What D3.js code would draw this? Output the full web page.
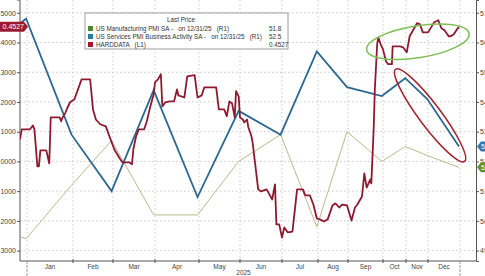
<!DOCTYPE html>
<html>
<head>
<meta charset="utf-8">
<script src="https://cdn.jsdelivr.net/npm/d3@7"></script>
<style>
  body { margin: 0; background: #fff; }
  svg { display: block; font-family: "Liberation Sans", "DejaVu Sans", sans-serif; }
</style>
</head>
<body>
<div id="chart"></div>
<script>
// month breaks of Bloomberg's gap-removed time axis and the relative width of each span
var axisBreaks = ["2024-12-24","2025-01-01","2025-02-01","2025-03-01","2025-04-01","2025-05-01",
  "2025-06-01","2025-07-01","2025-08-01","2025-09-01","2025-10-01","2025-11-01","2025-12-01",
  "2026-01-01","2026-01-15"];
var spanWidth = [7, 46, 40, 42, 44, 41, 42, 36, 30, 35, 23, 22, 32, 16];
var monthLabels = ["Jan","Feb","Mar","Apr","May","Jun","Jul","Aug","Sep","Oct","Nov","Dec"];

var pmiDates = ["2024-11-30","2024-12-31","2025-01-31","2025-02-28","2025-03-31","2025-04-30",
  "2025-05-31","2025-06-30","2025-07-31","2025-08-31","2025-09-30","2025-10-31","2025-11-30","2025-12-31"];
var mfgPmi = [49.7, 49.4, 51.2, 52.7, 50.2, 50.2, 52.0, 52.9, 49.8, 53.0, 52.0, 52.5, 52.2, 51.8];
var svcPmi = [56.1, 56.8, 52.9, 51.0, 54.4, 50.8, 53.7, 52.9, 55.7, 54.5, 54.2, 54.8, 54.1, 52.5];

var hardDates = ["2024-12-24","2024-12-26","2024-12-30","2025-01-03","2025-01-05","2025-01-06","2025-01-08",
  "2025-01-09","2025-01-10","2025-01-14","2025-01-16","2025-01-17","2025-01-23","2025-01-24","2025-01-25",
  "2025-01-27","2025-01-28","2025-01-30","2025-02-02","2025-02-07","2025-02-13","2025-02-15","2025-02-17",
  "2025-02-20","2025-02-24","2025-02-26","2025-03-02","2025-03-06","2025-03-08","2025-03-13","2025-03-15",
  "2025-03-16","2025-03-18","2025-03-20","2025-03-24","2025-03-26","2025-03-28","2025-03-29","2025-03-31",
  "2025-04-01","2025-04-03","2025-04-05","2025-04-06","2025-04-08","2025-04-11","2025-04-14","2025-04-16",
  "2025-04-17","2025-04-21","2025-04-23","2025-04-28","2025-04-30","2025-05-03","2025-05-05","2025-05-14",
  "2025-05-16","2025-05-20","2025-05-22","2025-05-24","2025-05-26","2025-05-28","2025-05-29","2025-05-31",
  "2025-06-01","2025-06-03","2025-06-04","2025-06-06","2025-06-07","2025-06-09","2025-06-10","2025-06-14",
  "2025-06-16","2025-06-20","2025-06-22","2025-06-24","2025-06-26","2025-06-27","2025-06-29","2025-07-01",
  "2025-07-03","2025-07-06","2025-07-10","2025-07-14","2025-07-19","2025-07-21","2025-07-25","2025-07-28",
  "2025-07-31","2025-08-03","2025-08-07","2025-08-11","2025-08-16","2025-08-19","2025-08-23","2025-08-26",
  "2025-08-31","2025-09-04","2025-09-07","2025-09-09","2025-09-13","2025-09-15","2025-09-17","2025-09-20",
  "2025-09-21","2025-09-23","2025-09-24","2025-09-26","2025-09-27","2025-09-29","2025-10-01","2025-10-05",
  "2025-10-08","2025-10-13","2025-10-14","2025-10-24","2025-10-28","2025-11-02","2025-11-06","2025-11-16",
  "2025-11-20","2025-11-24","2025-12-01","2025-12-04","2025-12-07","2025-12-11","2025-12-14","2025-12-17",
  "2025-12-21","2025-12-23","2025-12-26","2025-12-29","2025-12-31"];
var hardData = [0.074,0.108,0.108,0.108,0.121,0.108,-0.017,
  -0.017,0.037,0.037,-0.007,0.148,0.148,0.135,0.148,
  0.165,0.178,0.199,0.209,0.276,0.276,0.175,0.141,
  0.125,0.118,0.091,0.040,0.010,-0.003,-0.003,-0.010,
  0.040,0.084,0.108,0.108,0.135,0.175,0.192,0.226,
  0.266,0.276,0.293,0.185,0.199,0.202,0.202,0.242,
  0.222,0.215,0.286,0.290,0.215,0.222,0.249,0.249,
  0.175,0.175,0.152,0.202,0.195,0.148,0.236,0.219,
  0.148,0.141,0.131,0.141,0.114,0.088,0.064,-0.094,
  -0.101,-0.094,-0.111,-0.128,-0.077,-0.212,-0.212,-0.256,
  -0.222,-0.239,-0.236,-0.094,-0.094,-0.114,-0.114,-0.145,
  -0.192,-0.195,-0.202,-0.195,-0.148,-0.141,-0.155,-0.145,
  -0.148,-0.199,-0.155,-0.145,-0.118,-0.040,-0.088,-0.061,
  -0.074,0.108,0.242,0.394,0.417,0.394,0.377,0.337,
  0.327,0.327,0.387,0.387,0.384,0.367,0.421,0.465,
  0.461,0.434,0.434,0.451,0.468,0.475,0.448,0.441,
  0.421,0.421,0.428,0.444,0.4527];

var leftTicks = [-0.3,-0.2,-0.1,0,0.1,0.2,0.3,0.4,0.5];
var rightTicks = [49,50,51,52,53,54,55,56,57];

var width = 485, height = 276;
var margin = {top: 0, right: 9, bottom: 15, left: 20};
var x0 = margin.left, x1 = width - margin.right, yBottom = height - margin.bottom;

var parse = d3.utcParse("%Y-%m-%d");
var cum = [0];
spanWidth.forEach(function(w) { cum.push(cum[cum.length - 1] + w); });
var total = cum[cum.length - 1];

var x = d3.scaleUtc()
  .domain(axisBreaks.map(parse))
  .range(cum.map(function(c) { return x0 + (x1 - x0) * c / total; }));
var yL = d3.scaleLinear().domain([-0.335, 0.543]).range([yBottom, margin.top]);
var yR = d3.scaleLinear().domain([48.65, 57.43]).range([yBottom, margin.top]);

var svg = d3.select("#chart").append("svg")
  .attr("width", width).attr("height", height);

svg.append("clipPath").attr("id", "plot")
  .append("rect").attr("x", x0).attr("y", 0).attr("width", x1 - x0).attr("height", yBottom);

// grid
var grid = svg.append("g").attr("stroke", "#c9c9c9").attr("stroke-dasharray", "1.5,2.5");
grid.selectAll("line.h").data(leftTicks).enter().append("line")
  .attr("x1", x0).attr("x2", x1)
  .attr("y1", function(d) { return yL(d); }).attr("y2", function(d) { return yL(d); });
var monthStarts = axisBreaks.slice(1, 14).map(parse);
grid.selectAll("line.v").data(monthStarts).enter().append("line")
  .attr("x1", function(d) { return x(d); }).attr("x2", function(d) { return x(d); })
  .attr("y1", 0).attr("y2", yBottom);

// axes
var axisColor = "#555";
var gl = svg.append("g").attr("transform", "translate(" + x0 + ",0)")
  .call(d3.axisLeft(yL).tickValues(leftTicks).tickSize(3).tickPadding(1).tickFormat(d3.format(".4f")));
var gr = svg.append("g").attr("transform", "translate(" + x1 + ",0)")
  .call(d3.axisRight(yR).tickValues(rightTicks).tickSize(3).tickPadding(1).tickFormat(d3.format("d")));
[gl, gr].forEach(function(g) {
  g.select(".domain").attr("stroke", axisColor);
  g.selectAll(".tick line").attr("stroke", axisColor);
  g.selectAll("text").attr("fill", "#444").style("font-size", "7px")
    .style("font-family", "'Liberation Sans', sans-serif");
});
gl.select(".domain").attr("d", "M-3,0H0V" + yBottom);

var gb = svg.append("g").attr("transform", "translate(0," + yBottom + ")");
gb.append("line").attr("x1", x0).attr("x2", x1).attr("stroke", axisColor);
gb.selectAll("line.t").data(monthStarts.slice(1, 12)).enter().append("line")
  .attr("x1", function(d) { return x(d); }).attr("x2", function(d) { return x(d); })
  .attr("y1", -2).attr("y2", 2).attr("stroke", axisColor);
gb.selectAll("line.yr").data([monthStarts[0], monthStarts[12]]).enter().append("line")
  .attr("x1", function(d) { return x(d); }).attr("x2", function(d) { return x(d); })
  .attr("y1", 0).attr("y2", 15).attr("stroke", "#999").attr("stroke-dasharray", "3,1");
gb.selectAll("text.m").data(monthLabels).enter().append("text")
  .attr("x", function(d, i) { return (x(monthStarts[i]) + x(monthStarts[i + 1])) / 2; })
  .attr("y", 7.5).attr("text-anchor", "middle").attr("fill", "#444").style("font-size", "6.5px")
  .text(function(d) { return d; });
gb.append("text")
  .attr("x", (x(monthStarts[0]) + x(monthStarts[12])) / 2).attr("y", 14)
  .attr("text-anchor", "middle").attr("fill", "#444").style("font-size", "6.5px").text("2025");

// series
var plot = svg.append("g").attr("clip-path", "url(#plot)");
var lineR = d3.line().x(function(d) { return x(d[0]); }).y(function(d) { return yR(d[1]); });
var lineL = d3.line().x(function(d) { return x(d[0]); }).y(function(d) { return yL(d[1]); });

plot.append("path").datum(pmiDates.map(function(d, i) { return [parse(d), mfgPmi[i]]; }))
  .attr("d", lineR).attr("fill", "none").attr("stroke", "#bcb98e").attr("stroke-width", 1);
plot.append("path").datum(pmiDates.map(function(d, i) { return [parse(d), svcPmi[i]]; }))
  .attr("d", lineR).attr("fill", "none").attr("stroke", "#2e6890").attr("stroke-width", 1.8);
plot.append("path").datum(hardDates.map(function(d, i) { return [parse(d), hardData[i]]; }))
  .attr("d", lineL).attr("fill", "none").attr("stroke", "#8e1a30").attr("stroke-width", 1.8)
  .attr("stroke-linejoin", "round");

// annotation ellipses
function ring(dateA, valA, dateB, valB, scale, thick, color) {
  var ax = x(parse(dateA)), ay = scale(valA), bx = x(parse(dateB)), by = scale(valB);
  var cx = (ax + bx) / 2, cy = (ay + by) / 2;
  var rx = Math.hypot(bx - ax, by - ay) / 2;
  var ang = Math.atan2(by - ay, bx - ax) * 180 / Math.PI;
  svg.append("ellipse").attr("cx", cx).attr("cy", cy).attr("rx", rx).attr("ry", thick)
    .attr("transform", "rotate(" + ang + "," + cx + "," + cy + ")")
    .attr("fill", "none").attr("stroke", color).attr("stroke-width", 1.5);
}
ring("2025-09-17", 0.375, "2026-01-09", 0.43, yL, 16, "#7fbf57");
ring("2025-10-18", 55.1, "2026-01-05", 52.0, yR, 11, "#a3222f");

// last value tags
function tag(side, yv, label, color) {
  var g = svg.append("g").attr("transform", "translate(0," + yv + ")");
  if (side === "left") {
    g.append("path").attr("d", "M-2,-5H24L28,0L24,5H-2Z").attr("fill", color);
    g.append("text").attr("x", 24).attr("y", 2.5).attr("text-anchor", "end")
      .attr("fill", "#fff").style("font-size", "7px").text(label);
  } else {
    g.append("path").attr("d", "M" + (x1 + 1) + ",0L" + (x1 + 5) + ",-5H" + (width + 5) + "V5H" + (x1 + 5) + "Z")
      .attr("fill", color);
    g.append("text").attr("x", x1 + 5).attr("y", 2.5).attr("fill", "#fff")
      .style("font-size", "7px").text(label);
  }
}
tag("left", yL(hardData[hardData.length - 1]), "0.4527", "#9b1b2e");
tag("right", yR(svcPmi[svcPmi.length - 1]), "52.5", "#2f78ad");
tag("right", yR(mfgPmi[mfgPmi.length - 1]), "51.8", "#5f9128");

// legend
var legendNames = ["US Manufacturing PMI SA -   on 12/31/25   (R1)",
  "US Services PMI Business Activity SA -   on 12/31/25   (R1)",
  "HARDDATA   (L1)"];
var legendValues = ["51.8", "52.5", "0.4527"];
var legendColors = ["#4f8a2a", "#2c79a8", "#a3182c"];
var lg = svg.append("g").attr("transform", "translate(85,13)");
lg.append("rect").attr("width", 203).attr("height", 36)
  .attr("fill", "#fff").attr("stroke", "#888").attr("stroke-width", 0.8);
lg.append("text").attr("x", 96).attr("y", 9).attr("text-anchor", "middle")
  .attr("fill", "#333").style("font-size", "6.3px").text("Last Price");
legendNames.forEach(function(n, i) {
  var yy = 13 + i * 8;
  lg.append("rect").attr("x", 3).attr("y", yy).attr("width", 5).attr("height", 5)
    .attr("fill", legendColors[i]);
  lg.append("text").attr("x", 11).attr("y", yy + 5).attr("fill", "#333")
    .style("font-size", "6.3px").style("white-space", "pre").text(n);
  lg.append("text").attr("x", 184).attr("y", yy + 5).attr("fill", "#333")
    .style("font-size", "6.3px").text(legendValues[i]);
});
</script>
</body>
</html>
